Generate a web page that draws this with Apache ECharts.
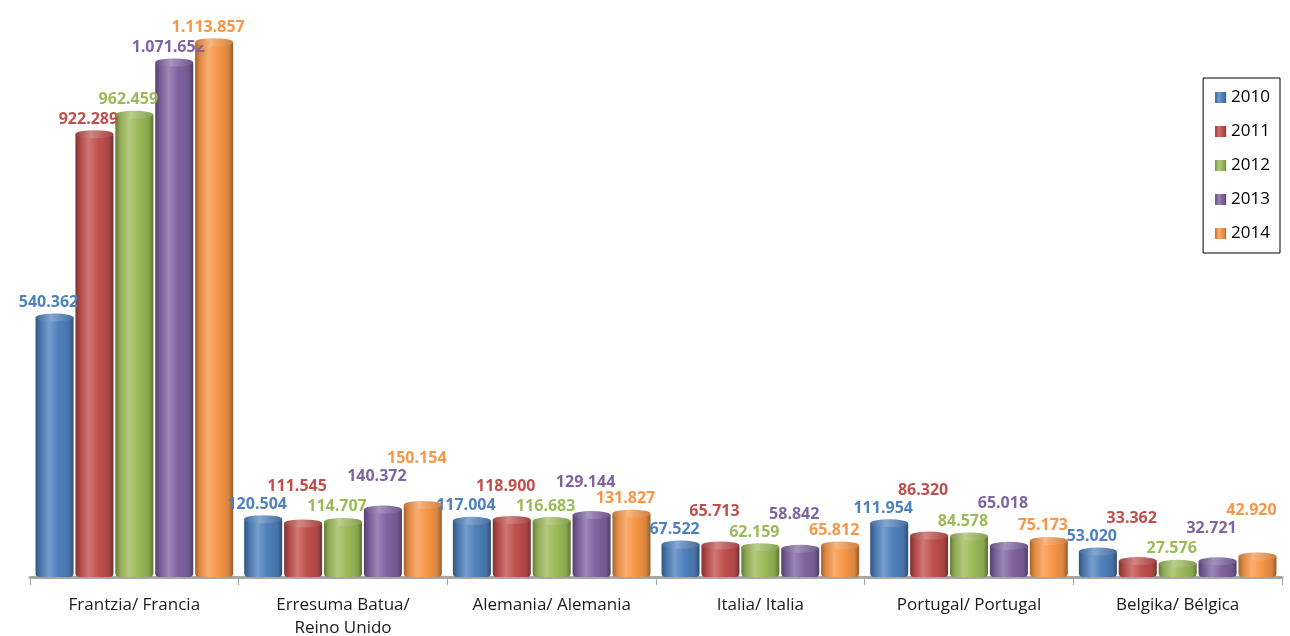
<!DOCTYPE html>
<html>
<head>
<meta charset="utf-8">
<script src="https://cdn.jsdelivr.net/npm/echarts@6/dist/echarts.min.js"></script>
<style>
html,body{margin:0;padding:0;background:#fff;}
#c{width:1290px;height:636px;}
</style>
</head>
<body>
<div id="c"></div>
<script>
const categories = ['Frantzia/ Francia', 'Erresuma Batua/\nReino Unido', 'Alemania/ Alemania', 'Italia/ Italia', 'Portugal/ Portugal', 'Belgika/ Bélgica'];
const years = ['2010', '2011', '2012', '2013', '2014'];
const v2010 = [540362, 120504, 117004, 67522, 111954, 53020];
const v2011 = [922289, 111545, 118900, 65713, 86320, 33362];
const v2012 = [962459, 114707, 116683, 62159, 84578, 27576];
const v2013 = [1071652, 140372, 129144, 58842, 65018, 32721];
const v2014 = [1113857, 150154, 131827, 65812, 75173, 42920];
const seriesValues = [v2010, v2011, v2012, v2013, v2014];
const baseColors = ['#4F81BD', '#C0504D', '#9BBB59', '#8064A2', '#F79646'];

function shade(hex, f) {
  const n = parseInt(hex.slice(1), 16);
  let r = (n >> 16) & 255, g = (n >> 8) & 255, b = n & 255;
  const t = f < 0 ? 0 : 255, p = Math.abs(f);
  r = Math.round((t - r) * p + r); g = Math.round((t - g) * p + g); b = Math.round((t - b) * p + b);
  return 'rgb(' + r + ',' + g + ',' + b + ')';
}
function cyl(hex) {
  return new echarts.graphic.LinearGradient(0, 0, 1, 0, [
    { offset: 0, color: shade(hex, -0.35) },
    { offset: 0.12, color: shade(hex, -0.1) },
    { offset: 0.35, color: shade(hex, 0.22) },
    { offset: 0.6, color: hex },
    { offset: 0.88, color: shade(hex, -0.12) },
    { offset: 1, color: shade(hex, -0.4) }
  ]);
}
function capGrad(hex) {
  return new echarts.graphic.LinearGradient(0, 0, 1, 0, [
    { offset: 0, color: shade(hex, -0.2) },
    { offset: 0.4, color: shade(hex, 0.3) },
    { offset: 1, color: shade(hex, -0.15) }
  ]);
}
function fmt(v) { return String(v).replace(/\B(?=(\d{3})+(?!\d))/g, '.'); }

const BW = 38;
const chart = echarts.init(document.getElementById('c'), null, { renderer: 'canvas' });

function buildSeries(offsets) {
  const s = [];
  seriesValues.forEach((vals, si) => {
    s.push({
      name: years[si],
      type: 'bar',
      barWidth: BW,
      barGap: '5%',
      itemStyle: { color: cyl(baseColors[si]), borderRadius: [0, 0, 4, 4] },
      label: {
        show: true, position: 'top', distance: 7,
        color: baseColors[si], fontFamily: 'Open Sans', fontWeight: 'bold', fontSize: 16,
        formatter: p => fmt(p.value)
      },
      data: vals.map((v, i) => ({ value: v, label: { offset: [-6, offsets ? offsets[si][i] : 0] } })),
      z: 2
    });
  });
  seriesValues.forEach((vals, si) => {
    s.push({
      name: years[si] + ' cap',
      type: 'pictorialBar',
      symbol: 'circle',
      symbolSize: [BW, 8],
      symbolPosition: 'end',
      symbolOffset: [0, '-50%'],
      barWidth: BW,
      barGap: '5%',
      itemStyle: { color: capGrad(baseColors[si]) },
      data: vals.slice(),
      z: 3,
      silent: true
    });
  });
  return s;
}

const option = {
  animation: false,
  backgroundColor: '#fff',
  grid: { left: 30, right: 8, top: 20, bottom: 59, outerBoundsMode: 'none', containLabel: false },
  legend: {
    data: years,
    orient: 'vertical',
    right: 10, top: 78,
    itemWidth: 11, itemHeight: 11, itemGap: 17,
    borderColor: '#000', borderWidth: 1, padding: [11, 10, 11, 12],
    textStyle: { fontFamily: 'Open Sans', fontSize: 17, color: '#000' },
    icon: 'rect'
  },
  xAxis: {
    type: 'category',
    data: categories,
    axisLine: { lineStyle: { color: '#a6a6a6', width: 3 } },
    axisTick: { show: true, length: 8, lineStyle: { color: '#a6a6a6', width: 1 } },
    axisLabel: { fontFamily: 'Open Sans', fontSize: 17, color: '#1a1a1a', margin: 17, lineHeight: 23, interval: 0 }
  },
  yAxis: { type: 'value', min: 0, max: 1160000, show: false },
  series: buildSeries(null)
};
chart.setOption(option);

// compute label staggering to avoid overlapping labels in each category
const offsets = seriesValues.map(() => categories.map(() => 0));
categories.forEach((c, ci) => {
  let prevY = null;
  seriesValues.forEach((vals, si) => {
    const y = chart.convertToPixel({ gridIndex: 0 }, [ci, vals[ci]])[1];
    let ly = y;
    if (prevY !== null && Math.abs(ly - prevY) < 16) {
      ly = Math.min(ly - 18, prevY - 18);
    }
    offsets[si][ci] = ly - y;
    prevY = ly;
  });
});
chart.setOption({ series: buildSeries(offsets) });
</script>
</body>
</html>
